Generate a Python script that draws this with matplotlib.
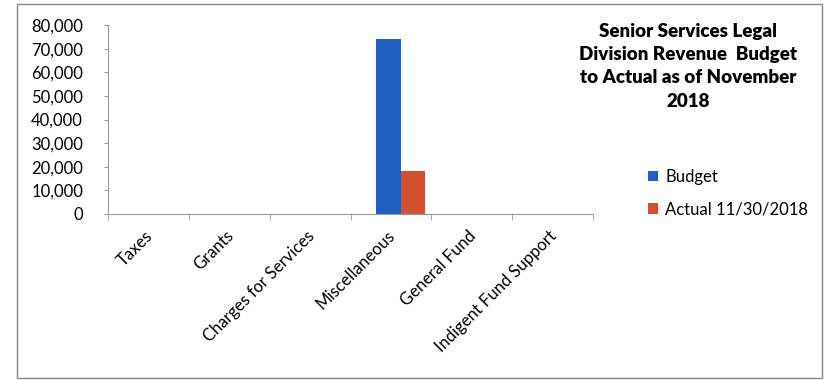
import numpy as np
import matplotlib.pyplot as plt
import matplotlib.transforms as mtransforms
from matplotlib.patches import Rectangle

categories = ['Taxes', 'Grants', 'Charges for Services', 'Miscellaneous',
              'General Fund', 'Indigent Fund Support']
budget = [0, 0, 0, 74000, 0, 0]
actual = [0, 0, 0, 18000, 0, 0]
yticks = [0, 10000, 20000, 30000, 40000, 50000, 60000, 70000, 80000]

plt.rcParams['font.family'] = ['Lato', 'DejaVu Sans']

fig = plt.figure(figsize=(8.28, 3.80), dpi=100)
ax = fig.add_axes([0.1304, 0.437, 0.586, 0.497])

x = np.arange(len(categories))
w = 0.3
off = 0.12  # bars sit a little right of the category centre
b1 = ax.bar(x - w / 2 + off, budget, w, color='#1f5fbf', label='Budget')
b2 = ax.bar(x + w / 2 + off, actual, w, color='#d0502f', label='Actual 11/30/2018')

ax.set_xlim(-0.5, len(categories) - 0.5)
ax.set_ylim(0, 80000)
ax.set_yticks(yticks)
ax.set_yticklabels(['{:,}'.format(v) for v in yticks], fontsize=12)
ax.set_xticks(x)
ax.set_xticklabels(categories, rotation=45, ha='right', rotation_mode='anchor', fontsize=12)
ax.tick_params(axis='x', length=0, pad=10)
shift = mtransforms.ScaledTranslation(-4 / 100, 0, fig.dpi_scale_trans)
for lbl in ax.get_xticklabels():
    lbl.set_transform(lbl.get_transform() + shift)
ax.set_xticks(np.arange(-0.5, len(categories)), minor=True)
ax.tick_params(axis='x', which='minor', length=4, color='#999999')
ax.tick_params(axis='y', length=3, color='#999999', pad=15)

for s in ['top', 'right']:
    ax.spines[s].set_visible(False)
for s in ['left', 'bottom']:
    ax.spines[s].set_color('#999999')

fig.text(0.831, 0.94, 'Senior Services Legal\nDivision Revenue  Budget\nto Actual as of November\n2018',
         ha='center', va='top', fontsize=13.5, fontweight='heavy', linespacing=1.45)

fig.legend(handles=[b1, b2], loc='upper left', bbox_to_anchor=(0.765, 0.595),
           frameon=False, fontsize=12, handlelength=0.6, handleheight=0.6,
           handletextpad=0.4, labelspacing=1.0)

fig.patches.append(Rectangle((17 / 828, 2 / 380), 805 / 828, 374 / 380,
                             transform=fig.transFigure, fill=False,
                             edgecolor='#888888', linewidth=1))

plt.savefig('out.png', dpi=100)
